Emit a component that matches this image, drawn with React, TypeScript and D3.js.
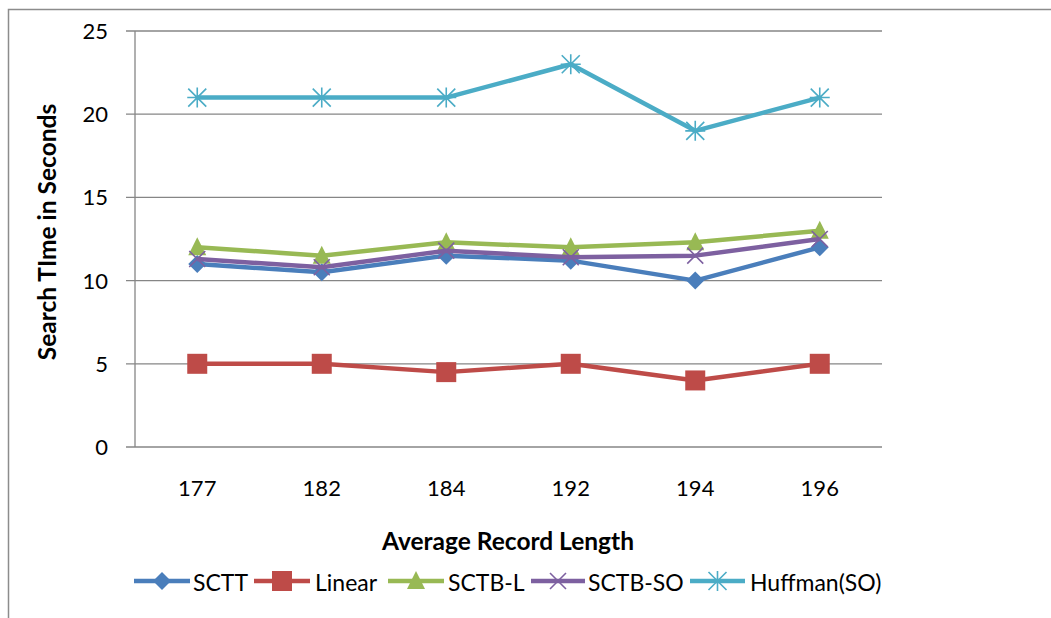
import React from "react";
import * as d3 from "d3";

const categories = ["177", "182", "184", "192", "194", "196"];
const sctt = [11, 10.5, 11.5, 11.2, 10, 12];
const linear = [5, 5, 4.5, 5, 4, 5];
const sctbL = [12, 11.5, 12.3, 12, 12.3, 13];
const sctbSO = [11.3, 10.8, 11.8, 11.4, 11.5, 12.5];
const huffman = [21, 21, 21, 23, 19, 21];
const yTicks = [0, 5, 10, 15, 20, 25];

const seriesNames = ["SCTT", "Linear", "SCTB-L", "SCTB-SO", "Huffman(SO)"];
const seriesValues = [sctt, linear, sctbL, sctbSO, huffman];
const colors = ["#4A7EBB", "#BE4B48", "#98B954", "#7D60A0", "#4BACC6"];
const markers = ["diamond", "square", "triangle", "x", "star"];

const W = 1051;
const H = 618;
const plot = { left: 135, right: 882, top: 31, bottom: 447 };
const FONT = "Lato, 'Open Sans', sans-serif";

function Marker({ type, x, y, color }: { type: string; x: number; y: number; color: string }) {
  if (type === "diamond") {
    const s = 9;
    return <path d={`M${x},${y - s}L${x + s},${y}L${x},${y + s}L${x - s},${y}Z`} fill={color} />;
  }
  if (type === "square") {
    const s = 10;
    return <rect x={x - s} y={y - s} width={2 * s} height={2 * s} fill={color} />;
  }
  if (type === "triangle") {
    const s = 9;
    return <path d={`M${x},${y - s - 1}L${x + s},${y + s - 1}L${x - s},${y + s - 1}Z`} fill={color} />;
  }
  if (type === "x") {
    const s = 8;
    return (
      <path d={`M${x - s},${y - s}L${x + s},${y + s}M${x - s},${y + s}L${x + s},${y - s}`} stroke={color} strokeWidth={1.6} fill="none" />
    );
  }
  const s = 9;
  return (
    <path
      d={`M${x - s},${y - s}L${x + s},${y + s}M${x - s},${y + s}L${x + s},${y - s}M${x},${y - s - 1}L${x},${y + s + 1}M${x - s - 1},${y}L${x + s + 1},${y}`}
      stroke={color}
      strokeWidth={1.6}
      fill="none"
    />
  );
}

const legendItems = [
  { line: [134, 190], text: 193 },
  { line: [254, 310], text: 315 },
  { line: [388, 444], text: 448 },
  { line: [531, 585], text: 588 },
  { line: [690, 745], text: 750 },
];

export default function App() {
  const x = d3.scaleBand<string>().domain(categories).range([plot.left, plot.right]);
  const y = d3.scaleLinear().domain([0, 25]).range([plot.bottom, plot.top]);
  const cx = (c: string) => (x(c) as number) + x.bandwidth() / 2;
  const line = d3
    .line<number>()
    .x((_, i) => cx(categories[i]))
    .y((d) => y(d));

  return (
    <svg width={W} height={H} style={{ position: "absolute", left: 0, top: 0, background: "#fff" }}>
      <rect x={0} y={0} width={W} height={H} fill="#fff" />
      <path d={`M8.5,${H}L8.5,9.5L${W},9.5`} stroke="#8c8c8c" strokeWidth={1.5} fill="none" />
      {yTicks.map((t) => (
        <g key={t}>
          <line x1={126} x2={plot.right} y1={y(t)} y2={y(t)} stroke="#868686" strokeWidth={1.3} />
          <text x={108} y={y(t)} dy="0.36em" textAnchor="end" fontFamily={FONT} fontSize={22} fill="#000">
            {t}
          </text>
        </g>
      ))}
      <line x1={plot.left} x2={plot.left} y1={plot.top} y2={plot.bottom} stroke="#868686" strokeWidth={1.3} />
      {categories.map((c) => (
        <text key={c} x={cx(c)} y={488} dy="0.36em" textAnchor="middle" fontFamily={FONT} fontSize={22} fill="#000">
          {c}
        </text>
      ))}
      {seriesValues.map((vals, si) => (
        <g key={si}>
          <path d={line(vals) as string} stroke={colors[si]} strokeWidth={4.5} fill="none" strokeLinejoin="round" />
          {vals.map((v, i) => (
            <Marker key={i} type={markers[si]} x={cx(categories[i])} y={y(v)} color={colors[si]} />
          ))}
        </g>
      ))}
      <text
        transform="translate(47,232) rotate(-90)"
        textAnchor="middle"
        dy="0.36em"
        fontFamily={FONT}
        fontWeight="bold"
        fontSize={24.5}
        fill="#000"
      >
        Search TIme in Seconds
      </text>
      <text x={508} y={541} dy="0.36em" textAnchor="middle" fontFamily={FONT} fontWeight="bold" fontSize={24.5} fill="#000">
        Average Record Length
      </text>
      {legendItems.map((it, i) => (
        <g key={i}>
          <line x1={it.line[0]} x2={it.line[1]} y1={581} y2={581} stroke={colors[i]} strokeWidth={4.5} />
          <Marker type={markers[i]} x={(it.line[0] + it.line[1]) / 2} y={581} color={colors[i]} />
          <text x={it.text} y={583} dy="0.36em" fontFamily={FONT} fontSize={23} fill="#000">
            {seriesNames[i]}
          </text>
        </g>
      ))}
    </svg>
  );
}
